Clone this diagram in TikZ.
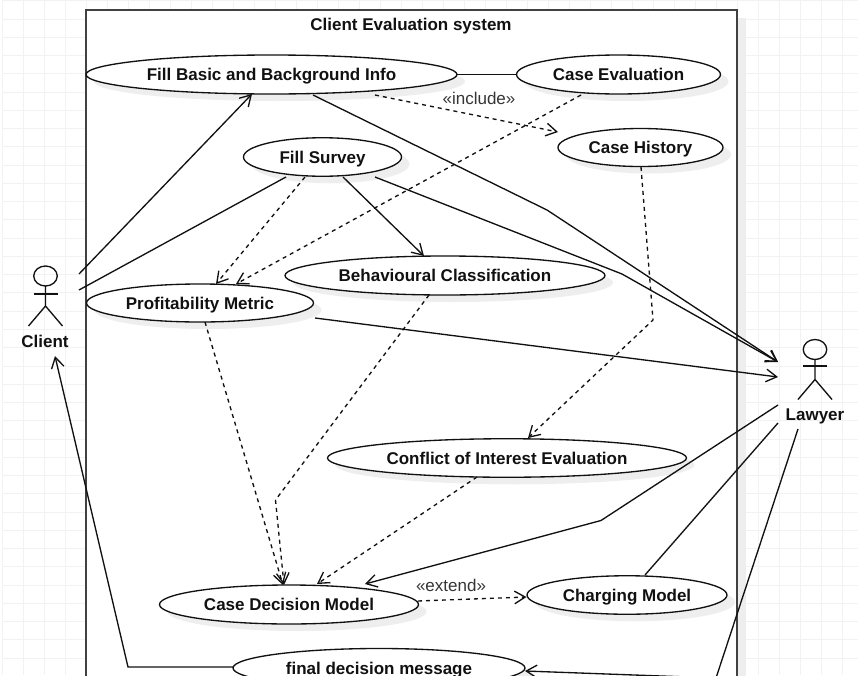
\documentclass[tikz,border=0pt]{standalone}
\usepackage{fontspec}
\setmainfont{Liberation Sans}
\usetikzlibrary{arrows.meta,shapes.geometric,shadows}
\definecolor{gridc}{HTML}{F2F2F2}
\definecolor{shadowc}{HTML}{EEEEEE}
\definecolor{inkc}{HTML}{111111}
\tikzset{
  x=0.75pt,y=-0.75pt,
  ink/.style={draw=inkc,line width=1pt,line join=miter},
  dep/.style={ink,dash pattern=on 3pt off 3pt},
  arr/.style={-{Straight Barb[length=8pt,width=9.5pt,line width=1pt]}},
  usecase/.style 2 args={ellipse,draw=inkc,line width=1pt,fill=white,
    minimum width=#1*0.75pt,minimum height=#2*0.75pt,inner sep=0pt,outer sep=0pt,
    text height=11pt,text depth=2pt,
    font=\fontsize{12.75}{15}\selectfont\bfseries,text=inkc,
    drop shadow={shadow xshift=6pt,shadow yshift=-5.25pt,opacity=1,fill=shadowc,draw=none}},
  boldtext/.style={inner sep=0pt,text height=11pt,text depth=2pt,font=\fontsize{12.75}{15}\selectfont\bfseries,text=inkc},
  stereo/.style={inner sep=0pt,text height=11pt,text depth=2pt,font=\fontsize{12.75}{15}\selectfont,text=inkc!85!white},
  head/.style={ellipse,draw=inkc,line width=1pt,minimum width=23.5*0.75pt,minimum height=20*0.75pt,inner sep=0pt,outer sep=0pt},
}
\begin{document}
\begin{tikzpicture}
\useasboundingbox (0,0) rectangle (858,693);
\fill[white] (0,0) rectangle (858,693);
\begin{scope}
\clip (2,0) rectangle (858,675);
% grid
\foreach \i in {0,...,40} {\draw[gridc,line width=0.6pt] ({2+21*\i},0) -- ({2+21*\i},675);}
\foreach \i in {0,...,36} {\draw[gridc,line width=0.6pt] (2,{0.7+18.26*\i}) -- (858,{0.7+18.26*\i});}
% system boundary with shadow
\fill[shadowc] (94,18) rectangle (746,700);
\draw[draw=inkc!80!white,line width=1.1pt,fill=white] (86,10) rectangle (737,700);
\node[boldtext] (title) at (411,24) {Client Evaluation system};
% use cases
\node[usecase={371}{39}] (fb) at (271.5,74.5) {Fill Basic and Background Info};
\node[usecase={204}{39}] (ce) at (618.5,74.5) {Case Evaluation};
\node[usecase={165}{38}] (ch) at (640.5,147.5) {Case History};
\node[usecase={158}{38.5}] (fs) at (322.5,157) {Fill Survey};
\node[usecase={320}{39}] (bc) at (445,275.5) {Behavioural Classification};
\node[usecase={227}{38}] (pm) at (200,303) {Profitability Metric};
\node[usecase={359}{38.5}] (ci) at (507,458) {Conflict of Interest Evaluation};
\node[usecase={259}{39}] (cd) at (289,604.5) {Case Decision Model};
\node[usecase={200}{38.5}] (cm) at (627,595) {Charging Model};
\node[usecase={292}{39}] (fd) at (379,668) {final decision message};
% actors
\node[boldtext] (client) at (45,341.5) {Client};
\node[head] (clienthead) at (45.5,276) {};
\draw[ink] (clienthead.south) -- ++(0,20) -- ++(-17,20) ++(17,-20) -- ++(17,20);
\draw[ink] (33.5,294) -- (57.5,294);
\node[boldtext] (lawyer) at (815,414) {Lawyer};
\node[head] (lawyerhead) at (815,349.5) {};
\draw[ink] (lawyerhead.south) -- ++(0,20) -- ++(-17,20) ++(17,-20) -- ++(17,20);
\draw[ink] (803,366) -- (827,366);
% connectors
\draw[ink,arr] ([shift={(34,-67.5)}]client.center) -- ([shift={(-19.5,19.5)}]fb.center);
\draw[ink] ([shift={(34,-51.5)}]client.center) -- ([shift={(-36.5,20)}]fs.center);
\draw[ink,arr] ([shift={(41.5,20.5)}]fb.center) -- (547,210) -- ([shift={(-37,-52)}]lawyer.center);
\draw[ink,arr] ([shift={(52.5,20)}]fs.center) -- (622,274) -- ([shift={(-37,-52)}]lawyer.center);
\draw[ink,arr] ([shift={(20.5,20)}]fs.center) -- ([shift={(-21,-19.5)}]bc.center);
\draw[dep,arr] ([shift={(-17.5,20)}]fs.center) -- ([shift={(16,-19)}]pm.center);
\draw[dep,arr] ([shift={(-37.5,20.5)}]ce.center) -- ([shift={(36,-19)}]pm.center);
\draw[ink] (fb.east) -- (ce.west);
\draw[dep,arr] ([shift={(103.5,20.5)}]fb.center) -- ([shift={(-82.5,-15.5)}]ch.center);
\node[stereo] (incl) at (479,98) {«include»};
\draw[dep,arr] ([shift={(0.5,19.5)}]ch.center) -- (653,320) -- ([shift={(21,-20)}]ci.center);
\draw[ink,arr] ([shift={(115,15)}]pm.center) -- ([shift={(-37,-37)}]lawyer.center);
\draw[dep,arr] ([shift={(-16,19.5)}]bc.center) -- (275.5,500) -- ([shift={(-5,-19.5)}]cd.center);
\draw[dep,arr] ([shift={(5,19)}]pm.center) -- ([shift={(-6,-19.5)}]cd.center);
\draw[dep,arr] ([shift={(-30,19)}]ci.center) -- ([shift={(28,-20.5)}]cd.center);
\draw[ink,arr] ([shift={(-37,-9)}]lawyer.center) -- (601,520.5) -- ([shift={(76,-20.5)}]cd.center);
\draw[ink] ([shift={(-37,9)}]lawyer.center) -- ([shift={(18,-20)}]cm.center);
\draw[ink,arr] ([shift={(-17,15)}]lawyer.center) -- (716,678) -- ([shift={(146,3)}]fd.center);
\draw[ink,arr] ([shift={(-146,-1)}]fd.center) -- (128,667) -- ([shift={(10,14.5)}]client.center);
\draw[dep,arr] ([shift={(129,-3.5)}]cd.center) -- ([shift={(-100.5,2)}]cm.center);
\node[stereo] (ext) at (451,585.5) {«extend»};
\end{scope}
\end{tikzpicture}
\end{document}
